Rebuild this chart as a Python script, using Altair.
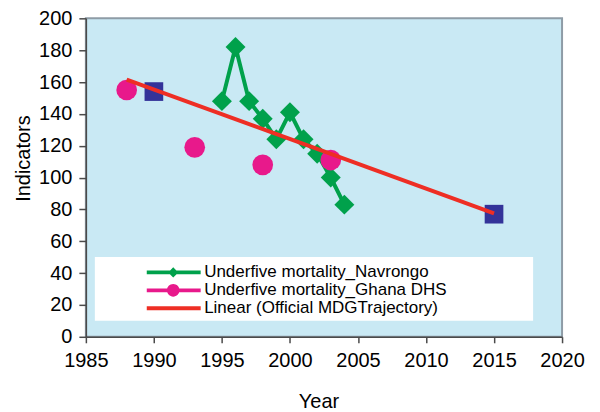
import altair as alt
import pandas as pd

# ---- data ----
nav_years = [1995, 1996, 1997, 1998, 1999, 2000, 2001, 2002, 2003, 2004]
nav_values = [148, 182, 148, 137, 124, 141, 124, 115, 100, 83]

dhs_years = [1988, 1993, 1998, 2003]
dhs_values = [155, 119, 108, 111]

mdg_years = [1990, 2015]
mdg_values = [154, 77]

trend_years = [1988, 2015]
trend_values = [161.5, 77.5]

series_labels = [
    "Underfive mortality_Navrongo",
    "Underfive mortality_Ghana DHS",
    "Linear (Official MDGTrajectory)",
]
series_colors = ["#00a14b", "#e8198b", "#ee2e24"]
x_ticks = [1985, 1990, 1995, 2000, 2005, 2010, 2015, 2020]
y_ticks = [0, 20, 40, 60, 80, 100, 120, 140, 160, 180, 200]

GREEN, MAGENTA, RED, NAVY = series_colors[0], series_colors[1], series_colors[2], "#333399"

nav = pd.DataFrame({"Year": nav_years, "Value": nav_values})
dhs = pd.DataFrame({"Year": dhs_years, "Value": dhs_values})
mdg = pd.DataFrame({"Year": mdg_years, "Value": mdg_values})
trend = pd.DataFrame({"Year": trend_years, "Value": trend_values})
legend_df = pd.DataFrame({"series": series_labels})

x_enc = alt.X(
    "Year:Q",
    scale=alt.Scale(domain=[1985, 2020], nice=False, zero=False),
    axis=alt.Axis(
        values=x_ticks, format="d", title="Year", grid=False,
        tickSize=6, labelPadding=8, titleX=233, titleY=71,
        titleBaseline="alphabetic", labelFlush=False, labelOverlap=False,
    ),
)
y_enc = alt.Y(
    "Value:Q",
    scale=alt.Scale(domain=[0, 200], nice=False),
    axis=alt.Axis(
        values=y_ticks, title="Indicators", grid=False,
        tickSize=7, labelPadding=7, titleX=-56, titleY=140,
        titleBaseline="alphabetic", labelFlush=False, labelOverlap=False,
    ),
)

# white legend box (decoration)
legend_box = alt.Chart(alt.InlineData(values=[{"box": 1}])).mark_rect(
    fill="white", stroke=None, opacity=1
).encode(
    x=alt.value(9), x2=alt.value(448), y=alt.value(239), y2=alt.value(303)
)

nav_line = alt.Chart(nav).mark_line(color=GREEN, strokeWidth=4).encode(x=x_enc, y=y_enc)
nav_pts = alt.Chart(nav).mark_point(
    shape="diamond", filled=True, color=GREEN, size=400, opacity=1, strokeWidth=0
).encode(x=x_enc, y=y_enc)
dhs_pts = alt.Chart(dhs).mark_point(
    shape="circle", filled=True, color=MAGENTA, size=430, opacity=1, strokeWidth=0
).encode(x=x_enc, y=y_enc)
mdg_pts = alt.Chart(mdg).mark_point(
    shape="square", filled=True, color=NAVY, size=350, opacity=1, strokeWidth=0
).encode(x=x_enc, y=y_enc)
trend_line = alt.Chart(trend).mark_line(color=RED, strokeWidth=4).encode(x=x_enc, y=y_enc)

# legend symbols: line + marker, in unit coordinates (r = 6px)
legend_paths = [
    "M-1,-0.33H8V0.33H-1Z M3.42,-0.85L4.27,0L3.42,0.85L2.57,0Z",
    "M-1,-0.33H8V0.33H-1Z M4.47,0A1.05,1.05,0,1,1,2.37,0A1.05,1.05,0,1,1,4.47,0Z",
    "M-1,-0.33H8V0.33H-1Z",
]

legend_layer = alt.Chart(legend_df).mark_point(
    filled=True, opacity=1, strokeWidth=0
).encode(
    color=alt.Color(
        "series:N",
        scale=alt.Scale(domain=series_labels, range=series_colors),
        legend=alt.Legend(
            title=None, orient="none", legendX=58.5, legendY=246,
            symbolSize=144, labelOffset=43, labelFontSize=17,
            labelColor="black", labelFont="Liberation Sans",
            rowPadding=0, padding=0, symbolOpacity=1,
            symbolStrokeWidth=0, labelLimit=400,
        ),
    ),
    shape=alt.Shape(
        "series:N",
        scale=alt.Scale(domain=series_labels, range=legend_paths),
    ),
    x=alt.value(-2000),
    y=alt.value(-2000),
)

chart = alt.layer(
    legend_box, nav_line, nav_pts, dhs_pts, mdg_pts, trend_line, legend_layer
).properties(
    width=477,
    height=319,
    autosize=alt.AutoSizeParams(type="none"),
    padding={"left": 78, "top": 10, "right": 30, "bottom": 80},
    background="white",
).configure_view(
    fill="#c9e9f4", stroke="#8e9ca6", strokeWidth=2
).configure_axis(
    labelFont="Liberation Sans", titleFont="Liberation Sans",
    labelFontSize=20, titleFontSize=20, titleFontWeight="normal",
    labelColor="black", titleColor="black",
    domainColor="#4a4a4a", domainWidth=1.5, tickColor="#4a4a4a", tickWidth=1.5,
)

chart.save("out.html", embed_options={"renderer": "svg", "actions": False})
